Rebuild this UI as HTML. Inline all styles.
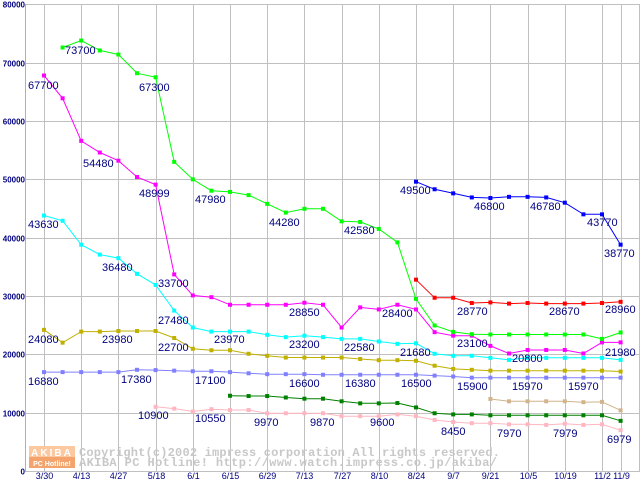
<!DOCTYPE html>
<html><head><meta charset="utf-8"><style>
html,body{margin:0;padding:0;background:#fff;}
svg{display:block;font-family:"Liberation Sans",sans-serif;}
.lbl{font-size:11px;fill:#000080;}
.yt{font-size:8px;font-weight:bold;fill:#000080;}
.xt{font-size:9px;fill:#000080;}
.cp{font-family:"Liberation Mono",monospace;font-size:12px;font-weight:bold;fill:#c8c8c8;}
</style></head><body>
<svg id="chart" width="640" height="480" viewBox="0 0 640 480">
<g id="grid"></g>
<g id="axes"></g>
<g id="series"></g>
<g>
<text class="lbl" x="28" y="89">67700</text>
<text class="lbl" x="65" y="54">73700</text>
<text class="lbl" x="139" y="91">67300</text>
<text class="lbl" x="83" y="167">54480</text>
<text class="lbl" x="139" y="197">48999</text>
<text class="lbl" x="195" y="203">47980</text>
<text class="lbl" x="269" y="226">44280</text>
<text class="lbl" x="344" y="234">42580</text>
<text class="lbl" x="400" y="194">49500</text>
<text class="lbl" x="474" y="210">46800</text>
<text class="lbl" x="530" y="210">46780</text>
<text class="lbl" x="587" y="226">43770</text>
<text class="lbl" x="604" y="257">38770</text>
<text class="lbl" x="457" y="315">28770</text>
<text class="lbl" x="549" y="315">28670</text>
<text class="lbl" x="605" y="313">28960</text>
<text class="lbl" x="457" y="347">23100</text>
<text class="lbl" x="512" y="362">20800</text>
<text class="lbl" x="605" y="356">21980</text>
<text class="lbl" x="400" y="356">21680</text>
<text class="lbl" x="28" y="228">43630</text>
<text class="lbl" x="102" y="271">36480</text>
<text class="lbl" x="158" y="287">33700</text>
<text class="lbl" x="158" y="324">27480</text>
<text class="lbl" x="214" y="343">23970</text>
<text class="lbl" x="28" y="343">24080</text>
<text class="lbl" x="102" y="343">23980</text>
<text class="lbl" x="158" y="351">22700</text>
<text class="lbl" x="289" y="316">28850</text>
<text class="lbl" x="382" y="317">28400</text>
<text class="lbl" x="289" y="348">23200</text>
<text class="lbl" x="344" y="351">22580</text>
<text class="lbl" x="28" y="385">16880</text>
<text class="lbl" x="121" y="383">17380</text>
<text class="lbl" x="195" y="384">17100</text>
<text class="lbl" x="289" y="387">16600</text>
<text class="lbl" x="345" y="387">16380</text>
<text class="lbl" x="401" y="387">16500</text>
<text class="lbl" x="457" y="390">15900</text>
<text class="lbl" x="512" y="390">15970</text>
<text class="lbl" x="568" y="390">15970</text>
<text class="lbl" x="138" y="419">10900</text>
<text class="lbl" x="195" y="422">10550</text>
<text class="lbl" x="254" y="426">9970</text>
<text class="lbl" x="310" y="426">9870</text>
<text class="lbl" x="370" y="426">9600</text>
<text class="lbl" x="441" y="435">8450</text>
<text class="lbl" x="497" y="437">7970</text>
<text class="lbl" x="553" y="437">7979</text>
<text class="lbl" x="607" y="443">6979</text>
</g>
<g>
<rect x="29" y="446" width="46" height="11" fill="#fbc8a0"/>
<rect x="29" y="457" width="46" height="11" fill="#f4a36c"/>
<text x="52" y="456" text-anchor="middle" font-size="10" font-weight="bold" fill="#fff" letter-spacing="2">AKIBA</text>
<text x="52" y="466" text-anchor="middle" font-size="7" font-weight="bold" fill="#fff">PC Hotline!</text>
</g>
<text class="cp" x="79" y="456" textLength="421">Copyright(c)2002 impress corporation All rights reserved.</text>
<text class="cp" x="79" y="466" textLength="418">AKIBA PC Hotline!  http://www.watch.impress.co.jp/akiba/</text>
</svg>
<script>
const categories = ["3/30","4/6","4/13","4/20","4/27","5/11","5/18","5/25","6/1","6/8","6/15","6/22","6/29","7/6","7/13","7/20","7/27","8/3","8/10","8/17","8/24","8/31","9/7","9/14","9/21","9/28","10/5","10/12","10/19","10/26","11/2","11/9"];
const xTickIdx = [0,2,4,6,8,10,12,14,16,18,20,22,24,26,28,30,31];
const xTickLabels = ["3/30","4/13","4/27","5/18","6/1","6/15","6/29","7/13","7/27","8/10","8/24","9/7","9/21","10/5","10/19","11/2","11/9"];
const yTicks = [0,10000,20000,30000,40000,50000,60000,70000,80000];
const N = null;
const seriesGreen = [N,72600,73800,72100,71400,68200,67500,53000,50000,48050,47850,47300,45800,44300,44950,44950,42800,42700,41500,39200,29500,24950,23850,23450,23400,23400,23400,23400,23400,23400,22650,23750];
const seriesMagenta = [67800,63900,56600,54600,53200,50400,49100,33700,30100,29800,28500,28500,28500,28500,28850,28500,24600,28050,27700,28500,27700,23800,23200,23200,21450,20150,20750,20750,20750,20150,22050,22050];
const seriesCyan = [43800,42900,38800,37100,36500,33800,31900,27500,24600,23900,23900,23900,23350,22950,23200,22950,22650,22650,22200,21800,21900,20100,19750,19750,19400,19050,19400,19400,19400,19400,19400,19050];
const seriesOlive = [24200,22000,23900,23900,24000,24000,24000,22800,20950,20700,20700,20100,19750,19450,19450,19450,19450,19200,19000,19000,18900,18050,17500,17350,17200,17200,17200,17200,17200,17200,17200,17050];
const seriesViolet = [16950,16950,16950,16950,16950,17350,17300,17200,17100,17100,16950,16750,16600,16600,16600,16500,16500,16500,16500,16500,16500,16350,16200,16000,16000,16000,16000,16000,16000,16000,16000,16000];
const seriesBlue = [N,N,N,N,N,N,N,N,N,N,N,N,N,N,N,N,N,N,N,N,49600,48300,47600,46900,46800,47000,47000,46900,46000,44000,44000,38800];
const seriesRed = [N,N,N,N,N,N,N,N,N,N,N,N,N,N,N,N,N,N,N,N,32800,29700,29700,28800,28900,28700,28800,28700,28700,28700,28800,29000];
const seriesDarkGreen = [N,N,N,N,N,N,N,N,N,N,12900,12850,12850,12600,12400,12400,11950,11600,11600,11650,10900,9900,9700,9700,9550,9550,9550,9550,9550,9550,9550,8600];
const seriesPink = [N,N,N,N,N,N,11000,10700,10200,10600,10450,10450,9900,9900,9900,9900,9400,9400,9400,9700,9400,8750,8400,8200,8200,8000,8000,7900,8100,7900,8000,7000];
const seriesTan = [N,N,N,N,N,N,N,N,N,N,N,N,N,N,N,N,N,N,N,N,N,N,N,N,12350,11950,11950,11950,11950,11800,11850,10400];

const NS = "http://www.w3.org/2000/svg";
function xPos(i){ return 44 + i*18.6; }
function yPos(v){ return 471 - v*0.005833; }
function mk(tag, parent, attrs){ const e=document.createElementNS(NS,tag); for(const k in attrs) e.setAttribute(k,attrs[k]); parent.appendChild(e); return e; }

const grid = document.getElementById('grid');
const axes = document.getElementById('axes');
yTicks.forEach(v=>{
  const y = Math.round(yPos(v))+0.5;
  const l = mk('line',grid,{x1:25,x2:640,y1:y,y2:y,stroke:'#c0c0c0','stroke-width':1});
  
  
  const t = mk('text',axes,{x:25,y:y+3,'text-anchor':'end',class:'yt'});
  t.textContent = String(v);
  
  
});
xTickIdx.forEach((idx,k)=>{
  const x = Math.round(xPos(idx))+0.5;
  const l = mk('line',grid,{x1:x,x2:x,y1:4,y2:471,stroke:'#c0c0c0','stroke-width':1});
  
  
  const t = mk('text',axes,{x:x,y:479,'text-anchor':'middle',class:'xt'});
  t.textContent = xTickLabels[k];
  
  
});
const lAx = mk('line',grid,{x1:25.5,x2:25.5,y1:4,y2:472,stroke:'#b0b0b0','stroke-width':1});


const rAx = mk('line',grid,{x1:639.5,x2:639.5,y1:4,y2:472,stroke:'#c0c0c0','stroke-width':1});



const seriesList = [
  [seriesTan,'#d2b48c','series-tan'],
  [seriesPink,'#ffb6c1','series-pink'],
  [seriesDarkGreen,'#008000','series-dark-green'],
  [seriesViolet,'#8080ff','series-violet'],
  [seriesOlive,'#c0b000','series-olive'],
  [seriesCyan,'#00ffff','series-cyan'],
  [seriesMagenta,'#ff00ff','series-magenta'],
  [seriesGreen,'#00ff00','series-green'],
  [seriesRed,'#ff0000','series-red'],
  [seriesBlue,'#0000ff','series-blue']
];
const sg = document.getElementById('series');
seriesList.forEach(([vals,color,name])=>{
  const g = mk('g',sg,{});
  
  
  let pts=[];
  vals.forEach((v,i)=>{ if(v!==null) pts.push(xPos(i).toFixed(1)+','+yPos(v).toFixed(1)); });
  const pl = mk('polyline',g,{points:pts.join(' '),fill:'none',stroke:color,'stroke-width':1});
  
  
  vals.forEach((v,i)=>{
    if(v===null) return;
    const r = mk('rect',g,{x:xPos(i)-2,y:yPos(v)-2,width:4,height:4,fill:color});
    
    
  });
});
</script>
</body></html>
